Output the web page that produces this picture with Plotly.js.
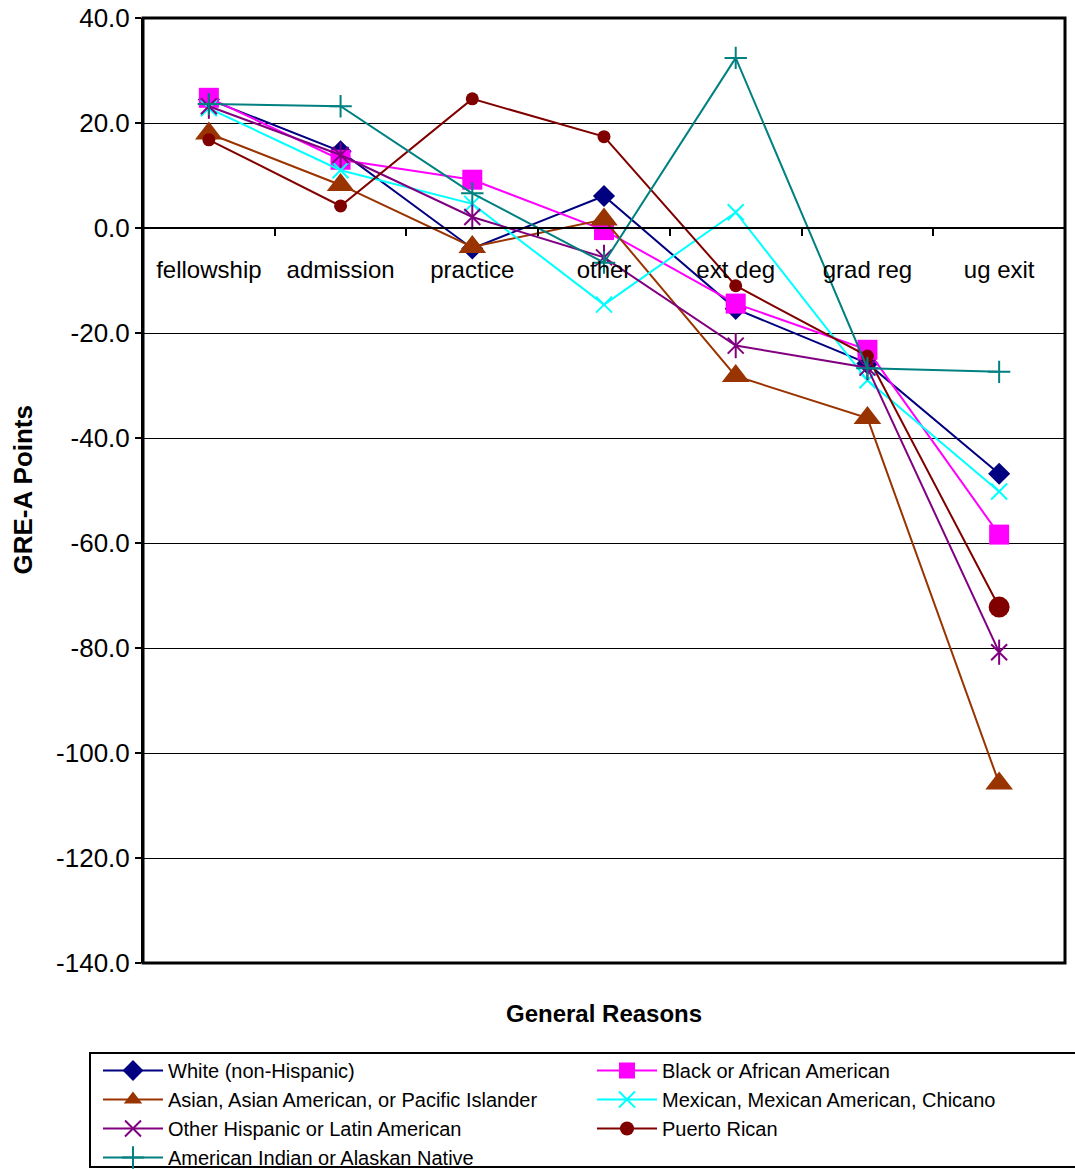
<!DOCTYPE html>
<html>
<head>
<meta charset="utf-8">
<script src="https://cdn.plot.ly/plotly-3.0.1.min.js"></script>
<style>
  html, body { margin: 0; padding: 0; background: #ffffff; overflow: hidden; }
  #frame { width: 1075px; height: 1169px; overflow: hidden; }
</style>
</head>
<body>
<div id="frame"><div id="chart"></div></div>
<script>
// Reasons for leaving, GRE-A point differences by ethnic group
const categories = ['fellowship', 'admission', 'practice', 'other', 'ext deg', 'grad reg', 'ug exit'];

const white       = [24.5, 14.6, -3.9, 6.1, -15.4, -25.8, -46.8];
const black       = [24.8, 13.0, 9.2, -0.4, -14.4, -23.2, -58.4];
const asian       = [18.0, 8.2, -3.6, 1.6, -28.2, -36.2, -105.8];
const mexican     = [22.8, 11.0, 4.6, -14.6, 3.0, -29.0, -50.2];
const otherHisp   = [23.2, 13.9, 2.1, -5.6, -22.4, -26.6, -80.8];
const puertoRican = [16.8, 4.2, 24.6, 17.4, -11.0, -24.4, -72.2];
const amIndian    = [23.6, 23.2, 6.6, -6.6, 32.4, -26.7, -27.4];

const seriesNames = [
  'White (non-Hispanic)',
  'Black or African American',
  'Asian, Asian American, or Pacific Islander',
  'Mexican, Mexican American, Chicano',
  'Other Hispanic or Latin American',
  'Puerto Rican',
  'American Indian or Alaskan Native'
];

const yTicks = [40, 20, 0, -20, -40, -60, -80, -100, -120, -140];
const yTickText = yTicks.map(v => v.toFixed(1));

const FONT = 'Liberation Sans, Arial, sans-serif';

// figure is drawn a little taller than the visible frame so the legend
// never forces the plot area to shrink
const W = 1075, H = 1200;
const M = { l: 143, r: 10, t: 18, b: 237 };
const plotW = W - M.l - M.r;
const plotH = H - M.t - M.b;
const px2x = px => (px - M.l) / plotW;
const px2y = py => (H - M.b - py) / plotH;

// legend is split into two columns, filled row by row
function series(name, y, color, marker, legendId) {
  return {
    type: 'scatter', mode: 'lines+markers',
    x: categories, y: y, name: name, legend: legendId,
    line: { color: color, width: 2 },
    marker: Object.assign({ color: color, opacity: 1 }, marker),
    hoverinfo: 'x+y+name'
  };
}

const traces = [
  series(seriesNames[0], white, '#000080', { symbol: 'diamond', size: 17, line: { color: '#000080', width: 0 } }, 'legend'),
  series(seriesNames[1], black, '#FF00FF', { symbol: 'square', size: 20, line: { color: '#FF00FF', width: 0 } }, 'legend2'),
  series(seriesNames[2], asian, '#993300', { symbol: 'triangle-up', size: 24, line: { color: '#993300', width: 0 } }, 'legend'),
  series(seriesNames[3], mexican, '#00FFFF', { symbol: 'x-thin-open', size: 16, line: { color: '#00FFFF', width: 2 } }, 'legend2'),
  series(seriesNames[4], otherHisp, '#800080', { symbol: 'x-thin-open', size: 16, line: { color: '#800080', width: 2 } }, 'legend'),
  // vertical stroke completing the star marker
  {
    type: 'scatter', mode: 'markers', x: categories, y: otherHisp,
    showlegend: false, hoverinfo: 'skip',
    marker: { symbol: 'line-ns-open', size: 18, color: '#800080', opacity: 1, line: { color: '#800080', width: 2 } }
  },
  series(seriesNames[5], puertoRican, '#800000', { symbol: 'circle', size: [13, 13, 13, 13, 13, 13, 21], line: { color: '#800000', width: 0 } }, 'legend2'),
  series(seriesNames[6], amIndian, '#008080', { symbol: 'cross-thin-open', size: 16, line: { color: '#008080', width: 2 } }, 'legend')
];

const legendBase = {
  orientation: 'v',
  xanchor: 'left', yanchor: 'top',
  y: px2y(1051),
  itemwidth: 60,
  borderwidth: 0, bgcolor: 'rgba(0,0,0,0)',
  font: { family: FONT, size: 20, color: '#000000' },
  tracegroupgap: 0, traceorder: 'normal'
};

const layout = {
  width: W, height: H,
  margin: M,
  paper_bgcolor: '#ffffff', plot_bgcolor: '#ffffff',
  font: { family: FONT, color: '#000000', size: 22 },
  showlegend: true,
  xaxis: {
    type: 'category',
    range: [-0.5, 6.5],
    anchor: 'free', position: 140 / 180,
    showline: true, linecolor: '#000000', linewidth: 2,
    ticks: 'outside', tickson: 'boundaries', ticklen: 7, tickwidth: 2, tickcolor: '#000000',
    ticklabelstandoff: 20,
    showgrid: false, zeroline: false,
    tickfont: { family: FONT, size: 24, color: '#000000' }
  },
  yaxis: {
    range: [-140, 40],
    tickvals: yTicks, ticktext: yTickText,
    showline: true, linecolor: '#000000', linewidth: 2,
    ticks: 'outside', ticklen: 6, tickwidth: 2, tickcolor: '#000000',
    showgrid: true, gridcolor: '#000000', gridwidth: 1,
    zeroline: false,
    tickfont: { family: FONT, size: 26, color: '#000000' }
  },
  shapes: [
    // plot frame
    { type: 'rect', xref: 'paper', yref: 'paper', x0: 0, x1: 1, y0: 0, y1: 1,
      line: { color: '#000000', width: 3 }, fillcolor: 'rgba(0,0,0,0)', layer: 'above' },
    // legend box
    { type: 'rect', xref: 'paper', yref: 'paper',
      x0: px2x(90), x1: px2x(1085), y0: px2y(1167), y1: px2y(1053),
      line: { color: '#000000', width: 2 }, fillcolor: 'rgba(0,0,0,0)', layer: 'below' }
  ],
  annotations: [
    { text: '<b>General Reasons</b>', xref: 'paper', yref: 'paper', x: 0.5, y: px2y(1013),
      xanchor: 'center', yanchor: 'middle', showarrow: false,
      font: { family: FONT, size: 24, color: '#000000' } },
    { text: '<b>GRE-A Points</b>', xref: 'paper', yref: 'paper', x: px2x(22), y: 0.5,
      xanchor: 'center', yanchor: 'middle', textangle: -90, showarrow: false,
      font: { family: FONT, size: 26, color: '#000000' } }
  ],
  legend: Object.assign({}, legendBase, { x: px2x(98) }),
  legend2: Object.assign({}, legendBase, { x: px2x(592) })
};

Plotly.newPlot('chart', traces, layout, { displayModeBar: false, staticPlot: true });
</script>
</body>
</html>
